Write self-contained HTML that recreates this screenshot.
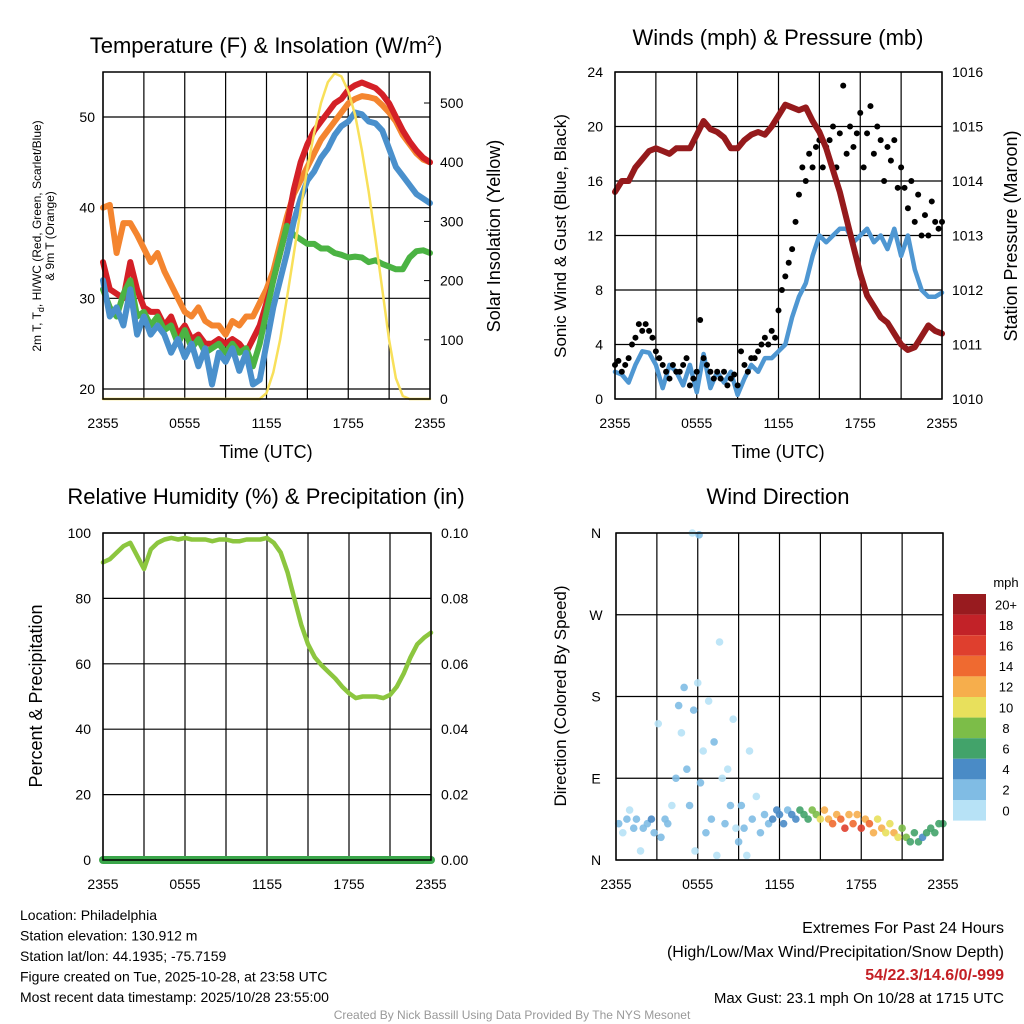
<!DOCTYPE html>
<html><head><meta charset="utf-8"><style>
body{margin:0;background:#fff;}
svg{display:block;font-family:"Liberation Sans",Arial,sans-serif;}
</style></head><body>
<svg id="c" width="1024" height="1024" viewBox="0 0 1024 1024"></svg>
<script>
const hours49 = Array.from({length:49},(_,i)=>i*0.5);
const xTickLabels = ["2355","0555","1155","1755","2355"];
// Panel 1
const tempRed = [34,31,30.5,30,34,31,29,28.5,28.5,27,28,26,27,25.5,26,25,25,25.5,25,25.5,25,24,25.5,27,29.5,32,35,38,42,45,47,48.5,49.5,50.5,51.5,52,53,53.5,53.8,53.5,53.2,52.5,51.5,50,48.5,47.3,46.3,45.5,45];
const tempOrange = [40,40.3,35,38.3,38.3,37,35.5,34,35,33,31.5,30,28.5,28,29,27.5,27,27,26,27.5,27,28,28,29.5,31,33,36,39,41.5,43,44.5,46,47.5,48.5,49.5,50.5,51.5,52,52.3,52.2,52,51.3,50.5,49.5,48,47,46,45.3,45];
const tempBlue = [32,28,29,27,31,26,28,26,27,26,24,25.5,23.5,25,22.5,24.5,20.5,24,23,24.5,22,24,20.5,21,25,29,32,35,38.5,41,43,44,45.5,46.5,48,49,49.5,50.5,50.3,49.5,49.3,48.5,46.5,44.5,43.5,42.5,41.5,41,40.5];
const tempGreen = [31,29,28,30.5,32,28,28.5,27,28,26.5,27,25,26.5,24.5,25.5,24,24.5,25,24,25,24,24.5,22.5,25,28.5,32,35,38,37,36.5,36,36,35.5,35.5,35,34.8,34.5,34.6,34.5,34,34.2,33.8,33.5,33.2,33.2,34.5,35.2,35.3,35];
const insolation = [0,0,0,0,0,0,0,0,0,0,0,0,0,0,0,0,0,0,0,0,0,0,0,0,10,45,100,170,245,320,390,450,500,535,550,545,520,480,420,350,270,185,100,35,5,0,0,0,0];
const p1LeftTicks = [20,30,40,50];
const p1RightTicks = [0,100,200,300,400,500];
// Panel 2
const windSpeed = [2,1.8,1.2,2.5,3.5,3.4,2.5,0.8,2.5,2,1,2.5,0.5,3.3,0.8,2,1.2,2,0.3,1.5,2.5,2,3,3,3.5,4,6,7.5,8.5,10.5,12,11.5,12,12.5,12.5,11.5,12,12.5,11.5,12,11,12.5,10.5,12,9.5,8,7.5,7.5,7.8];
const pressure = [1013.8,1014.0,1014.0,1014.25,1014.4,1014.55,1014.6,1014.55,1014.5,1014.6,1014.6,1014.6,1014.85,1015.1,1014.95,1014.9,1014.8,1014.6,1014.6,1014.75,1014.85,1014.9,1014.85,1015.0,1015.2,1015.4,1015.35,1015.3,1015.35,1015.1,1014.9,1014.6,1014.2,1013.8,1013.3,1012.8,1012.3,1011.9,1011.7,1011.5,1011.4,1011.2,1011.0,1010.9,1010.95,1011.15,1011.35,1011.25,1011.2];
const gustHours = Array.from({length:97},(_,i)=>i*0.25);
const gusts = [2.5,2.8,2,2.5,3,4,4.5,5.5,5,5.5,5,4.5,
3.5,3,2.5,2,1.5,2.5,2,2,2.5,3,1,1.5,
2,5.8,3,2.5,2,1.5,2,1.5,2,1,1.5,1.8,
1,3.5,2.5,2,3,3,3.5,4,4.5,4,5,4.5,
6.5,8,9,10,11,13,15,17,16,18,17,18.5,
19,17,18.5,19,20,17,19.5,23,18,20,18.5,19.5,
21,17,19.5,21.5,18,20,19,16,18.5,17.5,19,15.5,
17,15.5,14,16,13,15,12,13.5,12,14.5,13,12.5,13];
const p2LeftTicks = [0,4,8,12,16,20,24];
const p2RightTicks = [1010,1011,1012,1013,1014,1015,1016];
// Panel 3
const rh = [91,92,94,96,97,93,89,95,97,98,98.5,98,98.5,98,98,98,97.5,98,98,97.5,97.5,98,98,98,98.5,97,94,88,80,72,66,62,59.5,57.5,55.5,53,51,49.5,50,50,50,49.5,50.5,53,57,62,66,68,69.5];
const precip = Array(49).fill(0);
const p3LeftTicks = [0,20,40,60,80,100];
const p3RightTicks = ["0.00","0.02","0.04","0.06","0.08","0.10"];
// Panel 4
const dirHours = [0.2,0.5,0.8,1,1.3,1.5,1.8,2,2.3,2.6,2.8,3.1,3.3,3.6,3.8,4.1,4.4,4.6,4.8,5,5.2,5.4,5.6,5.7,5.8,6,6.1,6.2,6.4,6.6,6.8,7,7.2,7.4,7.6,7.8,8,8.2,8.4,8.6,8.8,9,9.2,9.4,9.6,9.8,10,10.3,10.6,10.9,11.2,11.5,11.8,12,12.3,12.6,12.9,13.2,13.5,13.8,14.1,14.4,14.7,15,15.3,15.6,15.9,16.2,16.5,16.8,17.1,17.4,17.7,18,18.3,18.6,18.9,19.2,19.5,19.8,20.1,20.4,20.7,21,21.3,21.6,21.9,22.2,22.5,22.8,23.1,23.4,23.7,24];
const dirDeg = [40,30,45,55,35,45,10,35,40,45,30,150,25,45,40,60,90,170,140,190,100,60,360,165,10,195,358,85,120,30,175,45,130,5,240,90,40,100,60,155,35,20,60,35,5,120,45,70,30,50,40,45,55,50,40,55,50,45,55,50,45,55,50,45,55,45,40,50,45,35,50,40,50,35,45,40,30,45,35,30,40,30,25,35,25,20,30,20,25,30,35,30,40,40];
const dirSpeed = [2,1,2,1,3,2,1,3,3,4,3,1,2,2,3,1,2,2,1,2,3,2,1,2,1,1,2,2,1,3,1,2,2,1,1,1,2,1,2,1,1,2,3,2,1,1,2,1,3,2,3,4,4,4,4,3,4,5,7,6,6,8,9,10,12,12,14,12,14,16,13,15,12,16,12,14,12,11,12,10,11,12,10,9,8,7,6,6,5,6,6,6,7,6];
const dirTickLabels = ["N","E","S","W","N"];
const speedBins = ["0","2","4","6","8","10","12","14","16","18","20+"];
const speedColors = ["#b7e2f6","#80bce4","#4a8bc6","#42a36a","#7cbd48","#e8e05c","#f6ae4c","#ef6a30","#df3f2e","#c22228","#981b1f"];

const NS="http://www.w3.org/2000/svg", svg=document.getElementById('c');
function mk(tag,attrs,parent){const e=document.createElementNS(NS,tag);for(const k in attrs)e.setAttribute(k,attrs[k]);(parent||svg).appendChild(e);return e;}
function txt(s,x,y,size,anchor,parent,extra){const e=mk('text',Object.assign({x:x,y:y,'font-size':size,'text-anchor':anchor||'middle',fill:'#000'},extra||{}),parent);e.textContent=s;return e;}
function lin(d0,d1,r0,r1){return v=>r0+(v-d0)/(d1-d0)*(r1-r0);}

function frame(P,name){
  const g=mk('g',{});
  
  
  for(let i=0;i<=8;i++){const x=P.x0+i*(P.x1-P.x0)/8;mk('line',{x1:x,y1:P.y0,x2:x,y2:P.y1,stroke:'#000','stroke-width':1.2},g);}
  for(let i=0;i<5;i++){const x=P.x0+i*(P.x1-P.x0)/4;const t=txt(xTickLabels[i],x,P.y1+29,14,'middle',g);
    
    }
  return g;
}
function border(P,g){mk('rect',{x:P.x0,y:P.y0,width:P.x1-P.x0,height:P.y1-P.y0,fill:'none',stroke:'#000','stroke-width':1.5},g);}
function path(xs,ys,sx,sy,color,w,g,name){let d='';xs.forEach((h,i)=>{d+=(i?'L':'M')+sx(h).toFixed(1)+','+sy(ys[i]).toFixed(1);});
  const p=mk('path',{d:d,fill:'none',stroke:color,'stroke-width':w,'stroke-linejoin':'round','stroke-linecap':'round'},g);
  
  
  return p;}

// ---------- Panel 1
{const P={x0:103,x1:430,y0:72,y1:399};const g=frame(P,'temperature-panel');
 const sx=lin(0,24,P.x0,P.x1), sy=lin(20,50,389,117), sr=lin(0,500,399,103);
 p1LeftTicks.forEach(v=>{const y=sy(v);mk('line',{x1:P.x0,y1:y,x2:P.x1,y2:y,stroke:'#000','stroke-width':1.2},g);const t=txt(String(v),P.x0-8,y+5,14,'end',g);
   
   });
 p1RightTicks.forEach(v=>{const y=sr(v);mk('line',{x1:P.x1-6,y1:y,x2:P.x1,y2:y,stroke:'#000'},g);const t=txt(String(v),P.x1+10,y+5,14,'start',g);
   
   });
 path(hours49,tempOrange,sx,sy,'#f4852f',6,g,'orange-9m-temp-line');
 path(hours49,tempRed,sx,sy,'#d42027',6,g,'red-temp-line');
 path(hours49,tempGreen,sx,sy,'#4bb343',6,g,'green-dewpoint-line');
 path(hours49,tempBlue,sx,sy,'#4a90cc',6,g,'blue-windchill-line');
 path(hours49,insolation,sx,sr,'#f8e05a',2.5,g,'yellow-insolation-line');
 border(P,g);
 const t1=txt('',266,53,22,'middle',g);t1.innerHTML='Temperature (F) &amp; Insolation (W/m<tspan dy="-8" font-size="14">2</tspan><tspan dy="8">)</tspan>';
 
 
 const xt=txt('Time (UTC)',266,458,18,'middle',g);
 
 
 const yt=mk('text',{transform:'translate(41,236) rotate(-90)','font-size':12,'text-anchor':'middle'},g);
 yt.innerHTML='2m T, T<tspan dy="3" font-size="9">d</tspan><tspan dy="-3">, HI/WC (Red, Green, Scarlet/Blue)</tspan>';
 
 
 const yt2=mk('text',{transform:'translate(54,236) rotate(-90)','font-size':12,'text-anchor':'middle'},g);yt2.textContent='& 9m T (Orange)';
 
 
 const rt=mk('text',{transform:'translate(500,236) rotate(-90)','font-size':18,'text-anchor':'middle'},g);rt.textContent='Solar Insolation (Yellow)';
 
 
}
// ---------- Panel 2
{const P={x0:615,x1:942,y0:72,y1:399};const g=frame(P,'wind-pressure-panel');
 const sx=lin(0,24,P.x0,P.x1), sy=lin(0,24,P.y1,P.y0), sp=lin(1010,1016,P.y1,P.y0);
 p2LeftTicks.forEach(v=>{const y=sy(v);mk('line',{x1:P.x0,y1:y,x2:P.x1,y2:y,stroke:'#000','stroke-width':1.2},g);const t=txt(String(v),P.x0-12,y+5,14,'end',g);
   
   });
 p2RightTicks.forEach(v=>{const y=sp(v);const t=txt(String(v),P.x1+10,y+5,14,'start',g);
   
   });
 path(hours49,windSpeed,sx,sy,'#4f97d2',4.5,g,'sonic-wind-line');
 gusts.forEach((v,i)=>{const c=mk('circle',{cx:sx(gustHours[i]),cy:sy(v),r:3,fill:'#000'},g);
   
   });
 path(hours49,pressure,sx,sp,'#951a1c',6,g,'pressure-line');
 border(P,g);
 const t=txt('Winds (mph) & Pressure (mb)',778,45,22,'middle',g);
 
 
 const xt=txt('Time (UTC)',778,458,18,'middle',g);
 
 
 const yt=mk('text',{transform:'translate(566,236) rotate(-90)','font-size':17,'text-anchor':'middle'},g);yt.textContent='Sonic Wind & Gust (Blue, Black)';
 
 
 const rt=mk('text',{transform:'translate(1017,236) rotate(-90)','font-size':18,'text-anchor':'middle'},g);rt.textContent='Station Pressure (Maroon)';
 
 
}
// ---------- Panel 3
{const P={x0:103,x1:431,y0:533,y1:860};const g=frame(P,'humidity-panel');
 const sx=lin(0,24,P.x0,P.x1), sy=lin(0,100,P.y1,P.y0), spr=lin(0,0.1,P.y1,P.y0);
 p3LeftTicks.forEach(v=>{const y=sy(v);mk('line',{x1:P.x0,y1:y,x2:P.x1,y2:y,stroke:'#000','stroke-width':1.2},g);const t=txt(String(v),P.x0-12,y+5,14,'end',g);
   
   });
 p3RightTicks.forEach((v,i)=>{const y=sy(i*20);const t=txt(v,P.x1+10,y+5,14,'start',g);
   
   });
 path(hours49,rh,sx,sy,'#8cc63f',4.5,g,'rh-line');
 path(hours49,precip,sx,spr,'#3aa64a',8,g,'precip-line');
 border(P,g);
 const t=txt('Relative Humidity (%) & Precipitation (in)',266,504,22,'middle',g);
 
 
 const yt=mk('text',{transform:'translate(42,696) rotate(-90)','font-size':18,'text-anchor':'middle'},g);yt.textContent='Percent & Precipitation';
 
 
}
// ---------- Panel 4
{const P={x0:616,x1:943,y0:533,y1:860};const g=frame(P,'wind-direction-panel');
 const sx=lin(0,24,P.x0,P.x1), sy=lin(0,360,P.y1,P.y0);
 dirTickLabels.forEach((v,i)=>{const y=sy(i*90);mk('line',{x1:P.x0,y1:y,x2:P.x1,y2:y,stroke:'#000','stroke-width':1.2},g);const t=txt(v,P.x0-20,y+5,14,'middle',g);
   
   });
 dirDeg.forEach((d,i)=>{const bin=Math.min(10,Math.floor(dirSpeed[i]/2));
   const c=mk('circle',{cx:sx(dirHours[i]),cy:sy(d),r:3.8,fill:speedColors[bin],'fill-opacity':0.9},g);
   
   });
 border(P,g);
 const t=txt('Wind Direction',778,504,22,'middle',g);
 
 
 const yt=mk('text',{transform:'translate(566,696) rotate(-90)','font-size':17,'text-anchor':'middle'},g);yt.textContent='Direction (Colored By Speed)';
 
 
 const lg=mk('g',{},g);
 
 
 txt('mph',1006,587,13,'middle',lg);
 const bh=20.6, top=594;
 speedBins.forEach((s,i)=>{const k=10-i;const y=top+i*bh;
   const r=mk('rect',{x:953,y:y,width:33,height:bh,fill:speedColors[k]},lg);
   
   
   const t=txt(speedBins[k],1006,y+bh/2+5,13,'middle',lg);
   
   });
}
// ---------- Footer text
{const g=mk('g',{});
 
 
 ["Location: Philadelphia","Station elevation: 130.912 m","Station lat/lon: 44.1935; -75.7159","Figure created on Tue, 2025-10-28, at 23:58 UTC","Most recent data timestamp: 2025/10/28 23:55:00"].forEach((s,i)=>txt(s,20,920+i*20.5,14,'start',g));
 const h=mk('g',{});
 
 
 txt('Extremes For Past 24 Hours',1004,933,16,'end',h);
 txt('(High/Low/Max Wind/Precipitation/Snow Depth)',1004,957,16,'end',h);
 txt('54/22.3/14.6/0/-999',1004,980,16,'end',h,{fill:'#c42025','font-weight':'bold'});
 txt('Max Gust: 23.1 mph On 10/28 at 1715 UTC',1004,1003,15,'end',h);
 const c=txt('Created By Nick Bassill Using Data Provided By The NYS Mesonet',512,1019,12,'middle',null,{fill:'#999'});
 
 
}
</script>
</body></html>
